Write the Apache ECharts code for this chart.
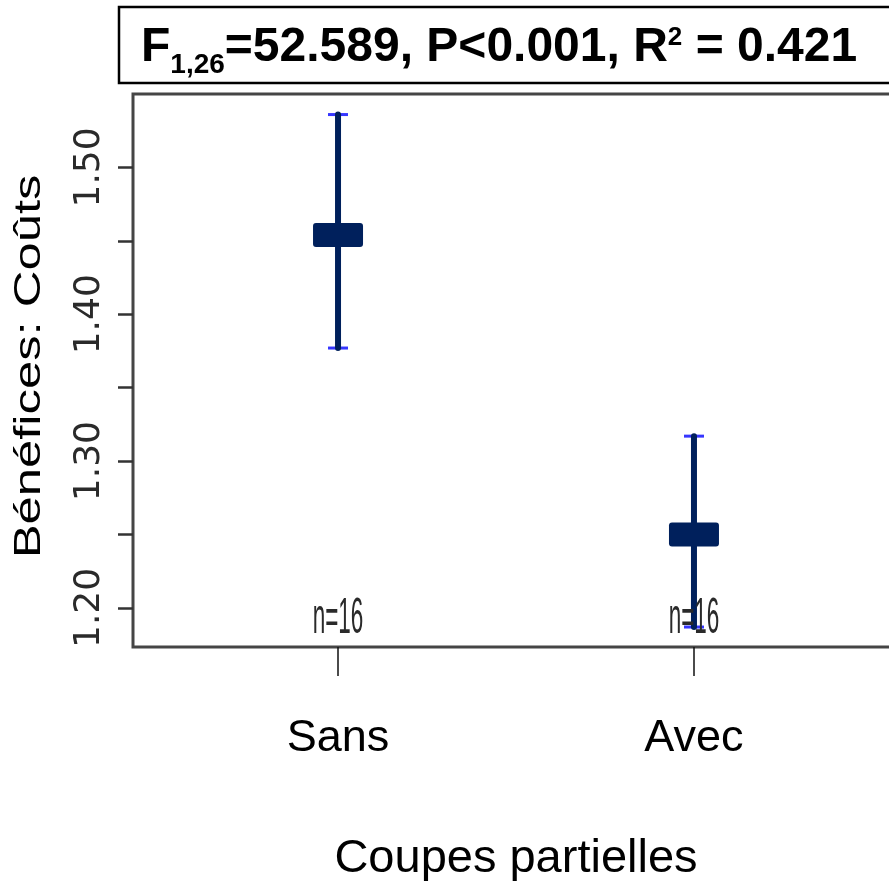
<!DOCTYPE html>
<html>
<head>
<meta charset="utf-8">
<script src="https://cdn.jsdelivr.net/npm/echarts@6/dist/echarts.min.js"></script>
<style>
  html, body { margin: 0; padding: 0; background: #ffffff; }
  #chart { width: 889px; height: 881px; }
</style>
</head>
<body>
<div id="chart"></div>
<script>
// ---- data ----
const categories = ['Sans', 'Avec'];
const means      = [1.454, 1.250];
const upperCI    = [1.536, 1.317];
const lowerCI    = [1.377, 1.187];
const counts     = [16, 16];
const yTickValues  = [1.20, 1.25, 1.30, 1.35, 1.40, 1.45, 1.50];
const yLabelValues = [1.20, 1.30, 1.40, 1.50];
const xTickValues  = [1, 2];
const statDf = '1,26';
const statF  = '52.589';
const statP  = 'P<0.001';
const statR2 = '0.421';
const yName = 'Bénéfices: Coûts';
const xName = 'Coupes partielles';

const yMin = 1.1734, yMax = 1.55;
const xMin = 0.424, xMax = 2.576;

const navy = '#00205c';
const capBlue = '#3636ff';
const sans = 'Liberation Sans, Arial, sans-serif';

const seriesData = categories.map((c, i) => [i + 1, means[i], lowerCI[i], upperCI[i], counts[i]]);

function renderItem(params, api) {
  const x = api.value(0), m = api.value(1), lo = api.value(2), hi = api.value(3), n = api.value(4);
  const pm = api.coord([x, m]);
  const pl = api.coord([x, lo]);
  const ph = api.coord([x, hi]);
  const pb = api.coord([x, yMin]);
  return {
    type: 'group',
    children: [
      { type: 'line', shape: { x1: ph[0] - 10, y1: ph[1], x2: ph[0] + 10, y2: ph[1] },
        style: { stroke: capBlue, lineWidth: 3 } },
      { type: 'line', shape: { x1: pl[0] - 10, y1: pl[1], x2: pl[0] + 10, y2: pl[1] },
        style: { stroke: capBlue, lineWidth: 3 } },
      { type: 'line', shape: { x1: ph[0], y1: ph[1], x2: pl[0], y2: pl[1] },
        style: { stroke: navy, lineWidth: 6, lineCap: 'round' } },
      { type: 'rect', shape: { x: pm[0] - 25, y: pm[1] - 12, width: 50, height: 24, r: 3 },
        style: { fill: navy } },
      { type: 'text', x: pb[0], y: pb[1] - 28, scaleX: 0.45,
        style: { text: 'n=' + n, fontSize: 50, fontFamily: sans, fill: '#2a2a2a',
                 align: 'center', verticalAlign: 'middle' } }
    ]
  };
}

const chart = echarts.init(document.getElementById('chart'), null, { renderer: 'canvas' });
chart.setOption({
  backgroundColor: '#ffffff',
  animation: false,
  grid: {
    left: 133, top: 94, width: 766, bottom: 234,
    show: true, borderColor: '#454545', borderWidth: 3,
    containLabel: false, outerBoundsMode: 'none'
  },
  xAxis: {
    type: 'value', min: xMin, max: xMax,
    axisLine: { show: false },
    splitLine: { show: false },
    axisTick: { show: true, customValues: xTickValues, length: 29, lineStyle: { color: '#111', width: 1.5 } },
    axisLabel: {
      show: true, customValues: xTickValues,
      formatter: v => categories[Math.round(v) - 1] || '',
      fontSize: 45, fontFamily: sans, color: '#000', margin: 69
    },
    name: xName, nameLocation: 'middle', nameGap: 189,
    nameTextStyle: { fontSize: 47, fontFamily: sans, color: '#000' }
  },
  yAxis: {
    type: 'value', min: yMin, max: yMax,
    axisLine: { show: false },
    splitLine: { show: false },
    axisTick: { show: true, customValues: yTickValues, length: 15, lineStyle: { color: '#333', width: 2.5 } },
    axisLabel: {
      show: true, customValues: yLabelValues, rotate: 90,
      formatter: v => v.toFixed(2),
      fontSize: 36, fontFamily: 'DejaVu Sans, sans-serif', color: '#2a2a2a', margin: 25
    }
  },
  graphic: [
    { type: 'rect', shape: { x: 119, y: 7, width: 800, height: 76 },
      style: { fill: '#ffffff', stroke: '#000', lineWidth: 2.5 } },
    { type: 'text', x: 141, y: 22.4,
      style: {
        text: '{m|F}{s|' + statDf + '}{m|=' + statF + ', ' + statP + ', R}{p|2}{m| = ' + statR2 + '}',
        align: 'left', verticalAlign: 'top', fill: '#000',
        rich: {
          m: { fontSize: 48, fontWeight: 'bold', fontFamily: sans, lineHeight: 50, fill: '#000' },
          s: { fontSize: 28, fontWeight: 'bold', fontFamily: sans, height: 14, verticalAlign: 'bottom', fill: '#000' },
          p: { fontSize: 26, fontWeight: 'bold', fontFamily: sans, height: 31, verticalAlign: 'top', fill: '#000' }
        }
      } },
    { type: 'text', x: 30.5, y: 366.5, rotation: Math.PI / 2, scaleX: 1.41,
      style: { text: yName, fontSize: 36, fontFamily: sans, fill: '#000',
               align: 'center', verticalAlign: 'middle' } }
  ],
  series: [{
    type: 'custom',
    renderItem: renderItem,
    encode: { x: 0, y: [1, 2, 3] },
    data: seriesData,
    z: 5
  }]
});
</script>
</body>
</html>
